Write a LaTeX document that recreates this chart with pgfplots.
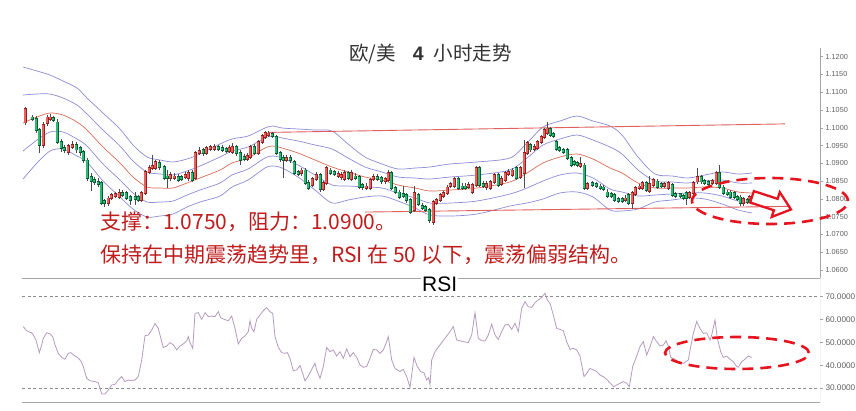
\documentclass[border=0pt]{standalone}
\usepackage{pgfplots}
\pgfplotsset{compat=1.18}
\usepackage{pgfplotstable}
\usepackage{fontspec}
\setmainfont{Liberation Sans}
\newfontfamily\cjk{Noto Sans CJK SC}
\definecolor{candR}{RGB}{232,96,92}
\definecolor{candRd}{RGB}{150,30,30}
\definecolor{candG}{RGB}{46,184,116}
\definecolor{candGd}{RGB}{0,95,50}
\definecolor{band}{RGB}{140,140,215}
\definecolor{midc}{RGB}{215,110,85}
\definecolor{chan}{RGB}{225,95,95}
\definecolor{rsic}{RGB}{180,155,190}
\definecolor{note}{RGB}{192,28,28}
\definecolor{ell}{RGB}{230,20,30}
\definecolor{axg}{RGB}{165,165,165}

% bullish candles: x open high low close
\pgfplotstableread{
x o h l c
25 1.1014 1.1058 1.1008 1.1053
43 1.0952 1.1016 1.0943 1.1008
47 1.1014 1.1036 1.1005 1.1030
50 1.1025 1.1039 1.1019 1.1030
68 1.0932 1.0954 1.0924 1.0949
72 1.0946 1.0963 1.0940 1.0952
108 1.0788 1.0808 1.0780 1.0802
111 1.0802 1.0817 1.0797 1.0811
115 1.0808 1.0819 1.0802 1.0814
119 1.0805 1.0828 1.0800 1.0817
141 1.0797 1.0822 1.0791 1.0817
145 1.0817 1.0881 1.0811 1.0876
149 1.0876 1.0895 1.0870 1.0887
152 1.0887 1.0924 1.0881 1.0893
155 1.0887 1.0909 1.0881 1.0904
170 1.0859 1.0876 1.0850 1.0867
174 1.0859 1.0873 1.0853 1.0864
185 1.0862 1.0876 1.0856 1.0867
188 1.0859 1.0881 1.0850 1.0873
195 1.0859 1.0935 1.0853 1.0929
199 1.0929 1.0946 1.0924 1.0935
206 1.0929 1.0949 1.0924 1.0943
210 1.0940 1.0952 1.0935 1.0946
214 1.0940 1.0954 1.0935 1.0946
229 1.0935 1.0952 1.0929 1.0943
232 1.0932 1.0957 1.0926 1.0946
247 1.0912 1.0929 1.0907 1.0921
250 1.0918 1.0952 1.0912 1.0946
258 1.0929 1.0966 1.0924 1.0960
262 1.0960 1.0983 1.0954 1.0977
265 1.0974 1.0991 1.0969 1.0985
268 1.0980 1.0991 1.0974 1.0985
286 1.0909 1.0924 1.0904 1.0915
301 1.0873 1.0887 1.0864 1.0881
312 1.0839 1.0862 1.0833 1.0856
316 1.0856 1.0876 1.0850 1.0867
323 1.0828 1.0850 1.0822 1.0845
326 1.0845 1.0893 1.0839 1.0887
338 1.0864 1.0878 1.0859 1.0870
341 1.0862 1.0876 1.0853 1.0867
344 1.0856 1.0881 1.0850 1.0873
351 1.0856 1.0881 1.0850 1.0873
366 1.0831 1.0845 1.0825 1.0836
370 1.0831 1.0859 1.0825 1.0853
373 1.0856 1.0870 1.0850 1.0862
385 1.0850 1.0862 1.0842 1.0856
388 1.0853 1.0881 1.0848 1.0873
414 1.0769 1.0836 1.0763 1.0817
433 1.0735 1.0797 1.0727 1.0791
436 1.0788 1.0802 1.0783 1.0797
440 1.0797 1.0817 1.0791 1.0811
443 1.0808 1.0822 1.0802 1.0817
447 1.0817 1.0839 1.0811 1.0833
450 1.0836 1.0848 1.0831 1.0842
454 1.0836 1.0862 1.0831 1.0856
468 1.0833 1.0848 1.0828 1.0839
472 1.0819 1.0845 1.0814 1.0839
476 1.0839 1.0893 1.0833 1.0887
486 1.0833 1.0850 1.0825 1.0842
490 1.0831 1.0853 1.0825 1.0848
494 1.0848 1.0873 1.0842 1.0867
501 1.0842 1.0864 1.0836 1.0856
505 1.0853 1.0878 1.0848 1.0873
508 1.0870 1.0884 1.0864 1.0876
512 1.0867 1.0887 1.0862 1.0881
520 1.0862 1.0893 1.0856 1.0887
524 1.0873 1.0966 1.0831 1.0929
527 1.0929 1.0963 1.0924 1.0957
534 1.0940 1.0954 1.0935 1.0946
537 1.0943 1.0966 1.0938 1.0960
541 1.0960 1.0980 1.0954 1.0974
544 1.0974 1.0999 1.0969 1.0994
547 1.0985 1.1016 1.0980 1.0999
580 1.0893 1.0918 1.0887 1.0898
587 1.0831 1.0848 1.0825 1.0842
625 1.0797 1.0811 1.0791 1.0802
632 1.0788 1.0822 1.0772 1.0817
635 1.0814 1.0836 1.0808 1.0831
639 1.0831 1.0842 1.0825 1.0836
642 1.0831 1.0850 1.0825 1.0845
649 1.0822 1.0864 1.0817 1.0842
653 1.0839 1.0859 1.0833 1.0853
664 1.0836 1.0848 1.0831 1.0842
668 1.0831 1.0850 1.0825 1.0845
689 1.0805 1.0822 1.0800 1.0817
693 1.0817 1.0850 1.0811 1.0845
697 1.0848 1.0887 1.0842 1.0862
712 1.0845 1.0856 1.0839 1.0850
716 1.0845 1.0878 1.0839 1.0873
743 1.0788 1.0805 1.0780 1.0800
749 1.0800 1.0811 1.0794 1.0805
}\candup

% bearish candles: x open high low close
\pgfplotstableread{
x o h l c
32 1.1030 1.1036 1.1019 1.1025
36 1.1025 1.1033 1.0985 1.0994
39 1.0994 1.0999 1.0929 1.0952
53 1.1028 1.1033 1.1016 1.1022
57 1.1016 1.1025 1.0954 1.0960
61 1.0960 1.0969 1.0932 1.0943
64 1.0943 1.0952 1.0929 1.0938
76 1.0952 1.0960 1.0929 1.0938
80 1.0943 1.0949 1.0921 1.0932
83 1.0932 1.0938 1.0901 1.0909
87 1.0909 1.0915 1.0850 1.0859
91 1.0862 1.0873 1.0822 1.0850
94 1.0853 1.0862 1.0839 1.0848
98 1.0848 1.0859 1.0833 1.0842
101 1.0845 1.0850 1.0783 1.0788
104 1.0794 1.0800 1.0777 1.0788
122 1.0817 1.0825 1.0805 1.0811
126 1.0817 1.0822 1.0797 1.0802
130 1.0805 1.0811 1.0783 1.0797
135 1.0805 1.0819 1.0783 1.0800
138 1.0805 1.0811 1.0791 1.0797
159 1.0901 1.0909 1.0881 1.0890
164 1.0890 1.0895 1.0853 1.0859
167 1.0864 1.0881 1.0831 1.0859
178 1.0862 1.0870 1.0848 1.0853
181 1.0862 1.0867 1.0850 1.0856
192 1.0873 1.0881 1.0848 1.0853
203 1.0938 1.0943 1.0921 1.0929
218 1.0946 1.0952 1.0935 1.0940
222 1.0943 1.0952 1.0932 1.0938
226 1.0940 1.0946 1.0929 1.0935
236 1.0946 1.0952 1.0921 1.0929
240 1.0929 1.0938 1.0895 1.0909
244 1.0918 1.0926 1.0907 1.0912
254 1.0946 1.0954 1.0924 1.0929
272 1.0983 1.0988 1.0971 1.0977
276 1.0974 1.0980 1.0924 1.0929
280 1.0929 1.0935 1.0904 1.0912
283 1.0915 1.0924 1.0859 1.0909
290 1.0915 1.0924 1.0901 1.0909
294 1.0904 1.0909 1.0867 1.0873
298 1.0876 1.0881 1.0864 1.0870
305 1.0881 1.0887 1.0839 1.0845
308 1.0845 1.0853 1.0825 1.0831
320 1.0867 1.0873 1.0819 1.0828
330 1.0881 1.0887 1.0867 1.0873
334 1.0876 1.0881 1.0864 1.0870
348 1.0873 1.0878 1.0853 1.0859
355 1.0864 1.0873 1.0853 1.0859
359 1.0862 1.0867 1.0828 1.0833
362 1.0839 1.0845 1.0825 1.0833
377 1.0862 1.0870 1.0850 1.0856
381 1.0859 1.0864 1.0842 1.0850
391 1.0873 1.0878 1.0825 1.0831
395 1.0831 1.0836 1.0814 1.0819
399 1.0819 1.0825 1.0800 1.0805
403 1.0814 1.0836 1.0802 1.0808
406 1.0811 1.0817 1.0788 1.0797
410 1.0797 1.0802 1.0757 1.0763
418 1.0811 1.0817 1.0780 1.0786
422 1.0780 1.0788 1.0769 1.0774
425 1.0777 1.0783 1.0763 1.0769
429 1.0769 1.0774 1.0733 1.0741
458 1.0856 1.0862 1.0825 1.0831
462 1.0836 1.0845 1.0825 1.0831
465 1.0836 1.0845 1.0825 1.0831
479 1.0887 1.0893 1.0833 1.0839
483 1.0842 1.0850 1.0831 1.0836
498 1.0867 1.0873 1.0833 1.0839
516 1.0887 1.0893 1.0853 1.0859
530 1.0952 1.0957 1.0932 1.0938
550 1.0997 1.1002 1.0974 1.0980
553 1.0983 1.0988 1.0971 1.0977
556 1.0960 1.0966 1.0935 1.0940
559 1.0943 1.0949 1.0932 1.0938
563 1.0938 1.0943 1.0926 1.0932
567 1.0938 1.0943 1.0909 1.0915
571 1.0915 1.0921 1.0890 1.0895
574 1.0904 1.0909 1.0893 1.0898
577 1.0901 1.0907 1.0890 1.0895
584 1.0895 1.0901 1.0825 1.0831
592 1.0845 1.0850 1.0833 1.0839
596 1.0842 1.0848 1.0831 1.0836
600 1.0836 1.0842 1.0825 1.0831
603 1.0833 1.0839 1.0822 1.0828
607 1.0819 1.0828 1.0802 1.0808
611 1.0814 1.0819 1.0802 1.0808
614 1.0811 1.0817 1.0791 1.0797
618 1.0800 1.0805 1.0788 1.0794
622 1.0800 1.0805 1.0788 1.0794
628 1.0811 1.0817 1.0783 1.0788
646 1.0845 1.0850 1.0819 1.0825
657 1.0850 1.0856 1.0828 1.0833
661 1.0842 1.0848 1.0831 1.0836
672 1.0839 1.0845 1.0805 1.0811
675 1.0814 1.0819 1.0802 1.0808
680 1.0814 1.0817 1.0802 1.0808
683 1.0808 1.0814 1.0797 1.0802
686 1.0817 1.0822 1.0783 1.0802
701 1.0862 1.0867 1.0842 1.0848
704 1.0850 1.0856 1.0839 1.0845
708 1.0848 1.0853 1.0836 1.0842
719 1.0873 1.0895 1.0828 1.0833
723 1.0833 1.0839 1.0811 1.0817
727 1.0819 1.0825 1.0808 1.0814
730 1.0819 1.0825 1.0800 1.0805
734 1.0817 1.0822 1.0800 1.0805
737 1.0805 1.0811 1.0794 1.0800
740 1.0805 1.0811 1.0780 1.0788
747 1.0797 1.0802 1.0786 1.0791
}\canddn

% Bollinger bands: x upper2 upper1 middle lower1 lower2
\pgfplotstableread{
x u2 u1 m l1 l2
23 1.11711 1.10923 1.10135 1.09347 1.08559
37 1.11598 1.10951 1.10304 1.09657 1.09010
50 1.11484 1.10950 1.10416 1.09882 1.09348
63 1.11316 1.10838 1.10360 1.09882 1.09404
77 1.11119 1.10641 1.10163 1.09685 1.09207
87 1.10838 1.10388 1.09938 1.09488 1.09038
103 1.10416 1.09938 1.09460 1.08982 1.08504
120 1.09966 1.09488 1.09010 1.08532 1.08054
133 1.09516 1.09066 1.08616 1.08166 1.07716
147 1.09179 1.08757 1.08335 1.07913 1.07491
160 1.09095 1.08701 1.08307 1.07913 1.07519
173 1.09039 1.08673 1.08307 1.07941 1.07575
187 1.09123 1.08785 1.08447 1.08109 1.07771
200 1.09264 1.08926 1.08588 1.08250 1.07912
220 1.09545 1.09179 1.08813 1.08447 1.08081
232 1.09686 1.09348 1.09010 1.08672 1.08334
248 1.09768 1.09459 1.09150 1.08841 1.08532
265 1.09994 1.09713 1.09432 1.09151 1.08870
273 1.10050 1.09769 1.09488 1.09207 1.08926
282 1.09994 1.09713 1.09432 1.09151 1.08870
298 1.09967 1.09629 1.09291 1.08953 1.08615
315 1.09938 1.09516 1.09094 1.08672 1.08250
332 1.09909 1.09403 1.08897 1.08391 1.07885
348 1.09545 1.09151 1.08757 1.08363 1.07969
365 1.09178 1.08897 1.08616 1.08335 1.08054
382 1.08982 1.08757 1.08532 1.08307 1.08082
398 1.08841 1.08616 1.08391 1.08166 1.07941
415 1.08869 1.08588 1.08307 1.08026 1.07745
430 1.08898 1.08560 1.08222 1.07884 1.07546
450 1.08982 1.08616 1.08250 1.07884 1.07518
477 1.09039 1.08673 1.08307 1.07941 1.07575
510 1.09152 1.08814 1.08476 1.08138 1.07800
527 1.09573 1.09151 1.08729 1.08307 1.07885
543 1.10022 1.09516 1.09010 1.08504 1.07998
560 1.10191 1.09685 1.09179 1.08673 1.08167
577 1.10331 1.09797 1.09263 1.08729 1.08195
593 1.10190 1.09656 1.09122 1.08588 1.08054
610 1.10051 1.09460 1.08869 1.08278 1.07687
622 1.09797 1.09263 1.08729 1.08195 1.07661
638 1.09179 1.08813 1.08447 1.08081 1.07715
655 1.08701 1.08504 1.08307 1.08110 1.07913
672 1.08645 1.08476 1.08307 1.08138 1.07969
688 1.08589 1.08448 1.08307 1.08166 1.08025
705 1.08673 1.08504 1.08335 1.08166 1.07997
722 1.08757 1.08532 1.08307 1.08082 1.07857
738 1.08700 1.08447 1.08194 1.07941 1.07688
752 1.08728 1.08447 1.08166 1.07885 1.07604
}\bands

% RSI
\pgfplotstableread{
x r
23.3 56.9
26 55.4
28.3 54.7
31.7 54.2
33.3 53.2
36 51.0
39.3 45.5
41.7 48.9
43.3 51.8
46.7 54.2
50 53.7
52.7 52.5
55 48.9
58.3 45.2
61.7 43.4
65 42.6
68.3 45.2
70.7 45.5
74 44.3
77.3 43.4
80.7 42.0
83.3 39.4
86.7 34.2
90 33.2
95 32.8
98.3 32.3
101.7 27.4
105 27.4
108.3 29.1
111.7 31.3
115 31.6
118.3 33.5
121.7 35.0
125 32.8
128.3 33.5
131.7 33.2
135 33.5
138.3 35.0
141.7 42.3
145 52.9
148.3 53.2
151.7 55.4
155 58.3
158.3 56.1
160 53.2
163.3 47.7
166.7 48.4
170 49.9
173.3 48.9
176.7 46.7
180 48.4
183.3 49.3
186.7 50.7
188.3 52.5
190 49.9
192.7 47.4
195 62.7
198.3 63.0
201.7 60.1
205 63.0
208.3 61.3
211.7 61.5
215 61.3
218.3 63.5
220.7 60.8
224 60.1
228.3 59.5
231.7 61.5
235 56.1
238.3 49.3
241.7 51.8
245 52.8
248.3 54.7
250 59.5
251.7 56.1
254 54.7
256.7 60.1
260 62.0
264 64.2
266.7 65.2
270 63.4
272.7 62.7
275 52.5
278.3 47.8
281.7 45.5
285 45.2
287.3 45.5
290 43.0
293.3 37.6
296.7 37.9
300 39.9
302.7 36.4
305 33.1
308.3 35.3
311.7 38.2
315 40.8
316.7 37.9
320 34.2
323.3 39.4
326.7 47.8
330 45.9
333.3 46.7
336.7 44.0
340 45.9
343.3 43.0
346.7 47.1
350 43.7
353.3 45.5
356.7 43.4
360 40.1
363.3 39.1
366.7 39.4
370 43.0
373.3 46.9
376.7 46.7
380 45.2
383.3 46.7
386.7 50.3
388.3 52.5
391.7 42.3
395 38.6
400 37.2
403.3 38.2
406.7 35.0
410 30.3
414 43.4
417.3 39.4
420.7 37.2
424 36.7
426.7 33.5
428.5 34.5
430 31.5
431.7 42.3
435 45.9
440 48.9
445 51.8
450 54.7
453.3 56.9
456.7 51.0
460 50.7
463.3 50.3
468.3 49.9
471.7 53.2
475 63.0
478.3 51.8
481.7 50.7
485 50.6
488.3 53.2
491.7 58.0
495 53.2
498.3 51.3
501.7 54.7
505 57.6
508.3 57.9
511.7 55.7
515 58.3
518.3 54.7
521.7 64.9
525 67.8
528.3 65.6
531.7 65.3
535 67.4
538.3 68.6
541.7 69.7
545 71.5
547.3 68.6
550 67.1
553.3 62.0
556.7 56.1
560 55.7
563.3 55.1
566.7 50.3
570 46.9
573.3 47.4
576.7 46.7
580 44.0
584 35.0
586.7 36.4
590 38.6
593.3 37.9
596.7 37.2
600 35.7
603.3 35.0
606.7 33.8
610 32.3
613.3 30.6
616.7 31.3
620 32.1
623.3 32.8
626.7 32.1
629.3 30.6
632.7 39.4
636.7 44.0
640 48.1
643.3 50.3
646.7 44.5
650 48.1
653.3 52.5
656.7 50.3
660 48.4
663.3 48.8
666 50.7
668.3 48.4
670.7 43.4
675 42.6
678.3 41.5
683.3 40.8
688.3 42.3
690.7 48.1
693.3 53.9
696.7 59.1
700 56.1
703.3 53.9
706.7 54.2
710 51.0
711.7 53.2
715 59.8
717.3 51.8
720.7 45.9
723.3 43.4
726.7 44.0
730 42.6
733.3 41.5
736.7 39.4
738.3 39.1
741.7 41.5
745 42.6
748.3 44.0
751.7 43.4
}\rsidata

\begin{document}
\begin{tikzpicture}[x=1pt,y=1pt]
\clip (0,0) rectangle (856,410);
\fill[white] (0,0) rectangle (856,410);

% ---------------- price panel ----------------
\begin{axis}[
  at={(22pt,132pt)}, anchor=south west,
  width=798pt, height=230pt, scale only axis,
  xmin=22, xmax=820, ymin=1.05775, ymax=1.12245,
  axis x line=none, axis y line*=right,
  axis line style={axg, line width=0.8pt},
  ytick={1.06,1.065,1.07,1.075,1.08,1.085,1.09,1.095,1.1,1.105,1.11,1.115,1.12},
  scaled y ticks=false,
  tick align=outside, major tick length=3pt,
  tick style={axg, line width=0.6pt},
  yticklabel style={font=\fontsize{7.3}{8}\selectfont, text=black!62, xshift=-1pt,
    /pgf/number format/.cd, fixed, fixed zerofill, precision=4, assume math mode=true},
]
% Bollinger bands
\addplot[band, line width=0.7pt, smooth] table[x=x, y=u2] {\bands};
\addplot[band, line width=0.7pt, smooth] table[x=x, y=u1] {\bands};
\addplot[midc, line width=0.7pt, smooth] table[x=x, y=m] {\bands};
\addplot[band, line width=0.7pt, smooth] table[x=x, y=l1] {\bands};
\addplot[band, line width=0.7pt, smooth] table[x=x, y=l2] {\bands};
% channel lines
\addplot[chan, line width=0.9pt] coordinates {(268,1.0987) (785,1.1011)};
\addplot[chan, line width=0.9pt] coordinates {(365,1.0763) (790,1.0779)};
% wicks
\addplot[draw=none, error bars/.cd, y dir=both, y explicit, error mark=none,
  error bar style={draw=black!70, line width=0.6pt}]
  table[x=x, y expr={(\thisrow{h}+\thisrow{l})/2}, y error expr={(\thisrow{h}-\thisrow{l})/2}] {\candup};
\addplot[draw=none, error bars/.cd, y dir=both, y explicit, error mark=none,
  error bar style={draw=black!70, line width=0.6pt}]
  table[x=x, y expr={(\thisrow{h}+\thisrow{l})/2}, y error expr={(\thisrow{h}-\thisrow{l})/2}] {\canddn};
% bodies: dark outline then fill
\addplot[draw=none, error bars/.cd, y dir=both, y explicit, error mark=none,
  error bar style={draw=candRd, line width=3.0pt}]
  table[x=x, y expr={(\thisrow{o}+\thisrow{c})/2}, y error expr={abs(\thisrow{c}-\thisrow{o})/2+0.00018}] {\candup};
\addplot[draw=none, error bars/.cd, y dir=both, y explicit, error mark=none,
  error bar style={draw=candR, line width=1.8pt}]
  table[x=x, y expr={(\thisrow{o}+\thisrow{c})/2}, y error expr={abs(\thisrow{c}-\thisrow{o})/2}] {\candup};
\addplot[draw=none, error bars/.cd, y dir=both, y explicit, error mark=none,
  error bar style={draw=candGd, line width=3.0pt}]
  table[x=x, y expr={(\thisrow{o}+\thisrow{c})/2}, y error expr={abs(\thisrow{o}-\thisrow{c})/2+0.00018}] {\canddn};
\addplot[draw=none, error bars/.cd, y dir=both, y explicit, error mark=none,
  error bar style={draw=candG, line width=1.8pt}]
  table[x=x, y expr={(\thisrow{o}+\thisrow{c})/2}, y error expr={abs(\thisrow{o}-\thisrow{c})/2}] {\canddn};
\end{axis}

% ---------------- RSI panel ----------------
\begin{axis}[
  at={(22pt,8pt)}, anchor=south west,
  width=798pt, height=124pt, scale only axis,
  xmin=22, xmax=820, ymin=23.87, ymax=78.19,
  axis x line*=box, axis y line*=right, xtick=\empty,
  axis line style={draw=none},
  ytick={30,40,50,60,70},
  extra y ticks={30,70}, extra y tick labels={},
  extra y tick style={grid=major, grid style={dash pattern=on 3pt off 2.5pt, black!45, line width=0.6pt}},
  tick align=outside, major tick length=3pt,
  tick style={axg, line width=0.6pt},
  yticklabel style={font=\fontsize{8.2}{9}\selectfont, text=black!62, xshift=-1pt,
    /pgf/number format/.cd, fixed, fixed zerofill, precision=4, assume math mode=true},
]
\addplot[rsic, line width=0.8pt] table[x=x, y=r] {\rsidata};
\draw[axg, line width=0.8pt] (rel axis cs:0,1) -- (rel axis cs:1,1) -- (rel axis cs:1,0) -- (rel axis cs:0,0);
\end{axis}

% ---------------- annotations ----------------
\node[anchor=base west, inner sep=1pt, fill=white, font=\fontsize{21}{24}\selectfont] at (421,118.3) {RSI};

\node[anchor=base west, inner sep=0pt, text=black!80, font=\fontsize{19.5}{22}\selectfont]
  at (349,349.5) {{\cjk 欧/美}\hspace{17pt}\textbf{4}\hspace{10pt}{\cjk 小时走势}};

\node[anchor=base west, inner sep=0pt, text=note, font=\cjk\fontsize{21}{24}\selectfont]
  at (100,180) {支撑：1.0750，阻力：1.0900。};
\node[anchor=base west, inner sep=0pt, text=note, font=\cjk\fontsize{21}{24}\selectfont]
  at (100,148) {保持在中期震荡趋势里，RSI 在 50 以下，震荡偏弱结构。};

\draw[ell, line width=2.6pt, dash pattern=on 11pt off 7pt] (770,209) ellipse [x radius=78, y radius=23];
\draw[ell, line width=2.6pt, dash pattern=on 11pt off 7pt] (737,57) ellipse [x radius=72, y radius=16];

\draw[ell, line width=2.3pt, line join=miter, shift={(771,207)}, rotate=-18]
  (-20,-6) -- (5,-6) -- (5,-13) -- (21,0) -- (5,13) -- (5,6) -- (-20,6) -- cycle;
\end{tikzpicture}
\end{document}
